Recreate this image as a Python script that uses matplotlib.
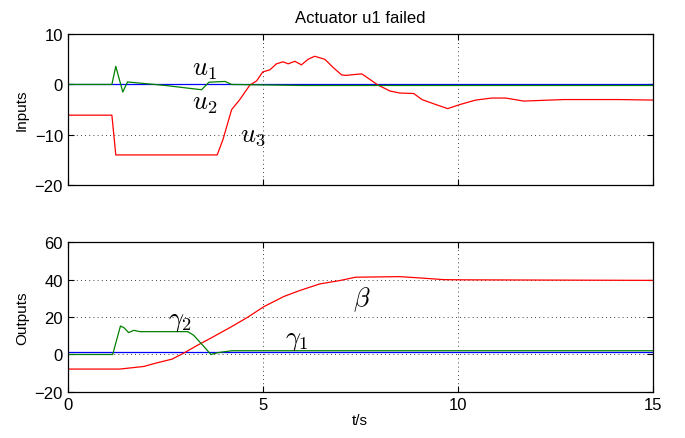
import numpy as np
import matplotlib
matplotlib.use("Agg")
import matplotlib.pyplot as plt

plt.rcParams['font.family'] = ['Liberation Sans', 'DejaVu Sans']
plt.rcParams['mathtext.fontset'] = 'cm'

# ---- Inputs (top panel) ----
u1_t = [0, 15]
u1_v = [0, 0]

u2_t = [0, 1.13, 1.23, 1.41, 1.53, 2.5, 3.43, 3.62, 4.03, 4.2, 6.0, 15]
u2_v = [0, 0, 3.6, -1.5, 0.5, -0.2, -1.05, 0.45, 0.6, 0.0, -0.2, -0.2]

u3_t = [0, 1.13, 1.23, 3.83, 3.98, 4.2, 4.41, 4.67, 4.84, 5.0, 5.18, 5.35,
        5.52, 5.65, 5.82, 5.99, 6.16, 6.33, 6.59, 6.8, 7.02, 7.13, 7.38,
        7.54, 7.69, 7.95, 8.26, 8.51, 8.87, 9.08, 9.44, 9.74, 10.05, 10.46,
        10.87, 11.23, 11.69, 12.72, 14.15, 15]
u3_v = [-6.1, -6.1, -14.0, -14.0, -10.9, -5.0, -3.0, -0.1, 0.7, 2.5, 2.9,
        4.1, 4.5, 4.1, 4.6, 3.9, 5.0, 5.6, 5.0, 3.4, 1.9, 1.8, 2.0, 2.1,
        1.3, -0.1, -1.3, -1.7, -1.8, -3.0, -4.0, -4.8, -4.0, -3.1, -2.7,
        -2.7, -3.3, -3.0, -3.0, -3.1]

# ---- Outputs (bottom panel) ----
g1_t = [0, 15]
g1_v = [1.2, 1.2]

g2_t = [0, 1.15, 1.35, 1.44, 1.56, 1.69, 1.85, 3.08, 3.23, 3.44, 3.67,
        3.85, 4.21, 15]
g2_v = [0, 0, 15.2, 14.3, 11.7, 12.9, 12.2, 12.2, 10.2, 5.4, 0, 1.0,
        2.0, 2.0]

beta_t = [0, 1.33, 1.95, 2.26, 2.67, 2.97, 3.33, 3.69, 4.21, 4.62, 5.03,
          5.54, 5.95, 6.46, 6.97, 7.38, 8.51, 9.03, 9.64, 10.05, 15]
beta_v = [-7.8, -7.8, -6.4, -4.6, -2.5, 0.7, 5.0, 9.0, 15.0, 20.0, 25.6,
          31.0, 34.2, 37.7, 39.5, 41.3, 41.6, 40.9, 40.0, 39.9, 39.6]

fig = plt.figure(figsize=(6.85, 4.39), dpi=100)
ax1 = fig.add_axes([0.099, 0.576, 0.854, 0.344])
ax2 = fig.add_axes([0.099, 0.105, 0.854, 0.341])

lw = 0.9
ax1.plot(u1_t, u1_v, color='#0000ff', lw=lw)
ax1.plot(u3_t, u3_v, color='#ff0000', lw=lw)
ax1.plot(u2_t, u2_v, color='#008000', lw=lw)

ax2.plot(g1_t, g1_v, color='#0000ff', lw=lw)
ax2.plot(beta_t, beta_v, color='#ff0000', lw=lw)
ax2.plot(g2_t, g2_v, color='#008000', lw=lw)

for ax in (ax1, ax2):
    ax.set_xlim(0, 15)
    ax.set_xticks([0, 5, 10, 15])
    ax.grid(True, color='black', linestyle=(0, (1, 4)), linewidth=0.6)
    ax.tick_params(direction='in', top=True, right=True, labelsize=12,
                   length=4, width=0.8)
    for s in ax.spines.values():
        s.set_linewidth(0.9)

ax1.set_ylim(-20, 10)
ax1.set_yticks([-20, -10, 0, 10])
ax1.set_xticklabels([])
ax1.set_ylabel('Inputs', fontsize=11)
ax1.set_title('Actuator u1 failed', fontsize=12, pad=9)

ax2.set_ylim(-20, 60)
ax2.set_yticks([-20, 0, 20, 40, 60])
ax2.set_ylabel('Outputs', fontsize=11)
ax2.set_xlabel('t/s', fontsize=11, labelpad=1)

fs = 19
ax1.text(3.5, 3.0, r'$u_1$', fontsize=fs, ha='center', va='center')
ax1.text(3.5, -3.6, r'$u_2$', fontsize=fs, ha='center', va='center')
ax1.text(4.75, -10.0, r'$u_3$', fontsize=fs, ha='center', va='center')
ax2.text(2.87, 17.7, r'$\gamma_2$', fontsize=fs, ha='center', va='center')
ax2.text(5.87, 8.0, r'$\gamma_1$', fontsize=fs, ha='center', va='center')
ax2.text(7.54, 30.0, r'$\beta$', fontsize=fs, ha='center', va='center')

fig.savefig('out.png', dpi=100)
